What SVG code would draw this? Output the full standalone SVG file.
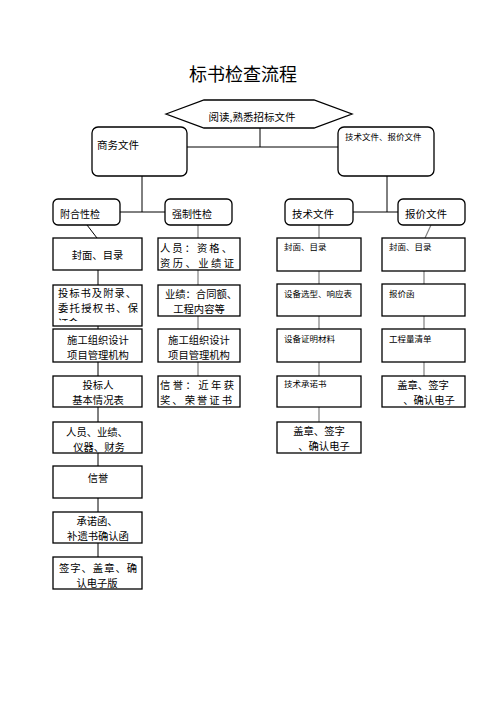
<svg xmlns="http://www.w3.org/2000/svg" width="496" height="702" viewBox="0 0 496 702">
<style>
text{font-family:"Noto Sans CJK SC","Noto Sans CJK JP",sans-serif;fill:#000}
.b{fill:#fff;stroke:#000;stroke-width:1.3}
.t{font-size:10.3px}
.s{font-size:8.5px}
.m{text-anchor:middle}
.k{stroke:#000;stroke-width:1;fill:none}
.g{stroke:#808080;stroke-width:1.2;fill:none}
</style>
<defs><clipPath id="c1"><rect x="53" y="285" width="89" height="36"/></clipPath></defs>
<rect width="496" height="702" fill="#fff"/>
<text x="243" y="81" class="m" style="font-size:18px">标书检查流程</text>
<g id="connectors">
<path class="k" d="M260 128V147M187 147H338M142 176V212M120 212H165M387 176V212M353 212H398M87 225L97 238M98 270V285M98 321V329M98 362V376M98 407V422M98 453V466M98 498V512M98 543V557"/>
<path class="g" d="M198 225V238M198 270V285M198 316V329M198 362V376M319 225V238M319 271V284M319 316V329M319 362V376M319 407V422M431 225L425 238M424 271V284M424 316V329M424 362V376"/>
</g>
<g id="n_read"><polygon class="b" points="166,114 204,100 314,100 352,114 314,128 204,128"/><text x="252" y="121" class="m" style="font-size:10.5px">阅读,熟悉招标文件</text></g>
<g id="n_biz"><rect class="b" x="92" y="127" width="95" height="49" rx="6"/><text x="97" y="149" style="font-size:10.5px">商务文件</text></g>
<g id="n_techprice"><rect class="b" x="338" y="127" width="96" height="49" rx="6"/><text x="345" y="140" class="s">技术文件、报价文件</text></g>
<g id="n_fuhe"><rect class="b" x="53" y="199" width="67" height="26" rx="5"/><text x="60" y="218" style="font-size:10px">附合性检</text></g>
<g id="n_qiangzhi"><rect class="b" x="165" y="199" width="67" height="26" rx="5"/><text x="172" y="218" style="font-size:10px">强制性检</text></g>
<g id="n_jishu"><rect class="b" x="285" y="199" width="68" height="26" rx="5"/><text x="292" y="218" style="font-size:10.5px">技术文件</text></g>
<g id="n_baojia"><rect class="b" x="398" y="199" width="67" height="26" rx="5"/><text x="405" y="218" style="font-size:10.5px">报价文件</text></g>

<g id="l1"><rect class="b" x="53" y="238" width="89" height="32"/><text x="97.5" y="259" class="t m">封面、目录</text></g>
<g id="l2"><rect class="b" x="53" y="285" width="89" height="41"/><text x="58" y="297" class="t" textLength="78" lengthAdjust="spacing">投标书及附录、</text><text x="58" y="312" class="t" textLength="80" lengthAdjust="spacing">委托授权书、保</text><text x="58" y="327" class="t" clip-path="url(#c1)">证金</text></g>
<g id="l3"><rect class="b" x="53" y="329" width="89" height="33"/><text x="98" y="344" class="t m">施工组织设计</text><text x="98" y="359" class="t m">项目管理机构</text></g>
<g id="l4"><rect class="b" x="53" y="376" width="89" height="31"/><text x="98" y="389" class="t m">投标人</text><text x="98" y="404" class="t m">基本情况表</text></g>
<g id="l5"><rect class="b" x="53" y="422" width="89" height="31"/><text x="97" y="436" class="t m">人员、业绩、</text><text x="99" y="451" class="t m">仪器、财务</text></g>
<g id="l6"><rect class="b" x="53" y="466" width="89" height="32"/><text x="98" y="482" class="t m">信誉</text></g>
<g id="l7"><rect class="b" x="53" y="512" width="89" height="31"/><text x="97" y="525" class="t m">承诺函、</text><text x="98" y="540" class="t m">补遗书确认函</text></g>
<g id="l8"><rect class="b" x="53" y="557" width="89" height="32"/><text x="59" y="572" class="t" textLength="78" lengthAdjust="spacing">签字、盖章、确</text><text x="97" y="587" class="t m">认电子版</text></g>

<g id="m1"><rect class="b" x="158" y="238" width="82" height="32"/><text x="160" y="252" class="t" textLength="72" lengthAdjust="spacing">人员：资格、</text><text x="160" y="267" class="t" textLength="74" lengthAdjust="spacing">资历、业绩证</text></g>
<g id="m2"><rect class="b" x="158" y="285" width="82" height="31"/><text x="165" y="298" class="t" textLength="72" lengthAdjust="spacing">业绩：合同额、</text><text x="199" y="313" class="t m">工程内容等</text></g>
<g id="m3"><rect class="b" x="158" y="329" width="82" height="33"/><text x="199" y="344" class="t m">施工组织设计</text><text x="199" y="359" class="t m">项目管理机构</text></g>
<g id="m4"><rect class="b" x="158" y="376" width="82" height="31"/><text x="160" y="389" class="t" textLength="74" lengthAdjust="spacing">信誉：近年获</text><text x="160" y="404" class="t" textLength="72" lengthAdjust="spacing">奖、荣誉证书</text></g>

<g id="t1"><rect class="b" x="277" y="238" width="84" height="33"/><text x="284" y="250" class="s">封面、目录</text></g>
<g id="t2"><rect class="b" x="277" y="284" width="84" height="32"/><text x="284" y="297" class="s">设备选型、响应表</text></g>
<g id="t3"><rect class="b" x="277" y="329" width="84" height="33"/><text x="284" y="342" class="s">设备证明材料</text></g>
<g id="t4"><rect class="b" x="277" y="376" width="84" height="31"/><text x="284" y="387" class="s">技术承诺书</text></g>
<g id="t5"><rect class="b" x="277" y="422" width="84" height="31"/><text x="319" y="435" class="t m">盖章、签字</text><text x="324" y="450" class="t m">、确认电子</text></g>

<g id="p1"><rect class="b" x="382" y="238" width="83" height="33"/><text x="389" y="250" class="s">封面、目录</text></g>
<g id="p2"><rect class="b" x="382" y="284" width="83" height="32"/><text x="389" y="297" class="s">报价函</text></g>
<g id="p3"><rect class="b" x="382" y="329" width="83" height="33"/><text x="389" y="342" class="s">工程量清单</text></g>
<g id="p4"><rect class="b" x="382" y="376" width="83" height="31"/><text x="423" y="389" class="t m">盖章、签字</text><text x="429" y="404" class="t m">、确认电子</text></g>
</svg>
